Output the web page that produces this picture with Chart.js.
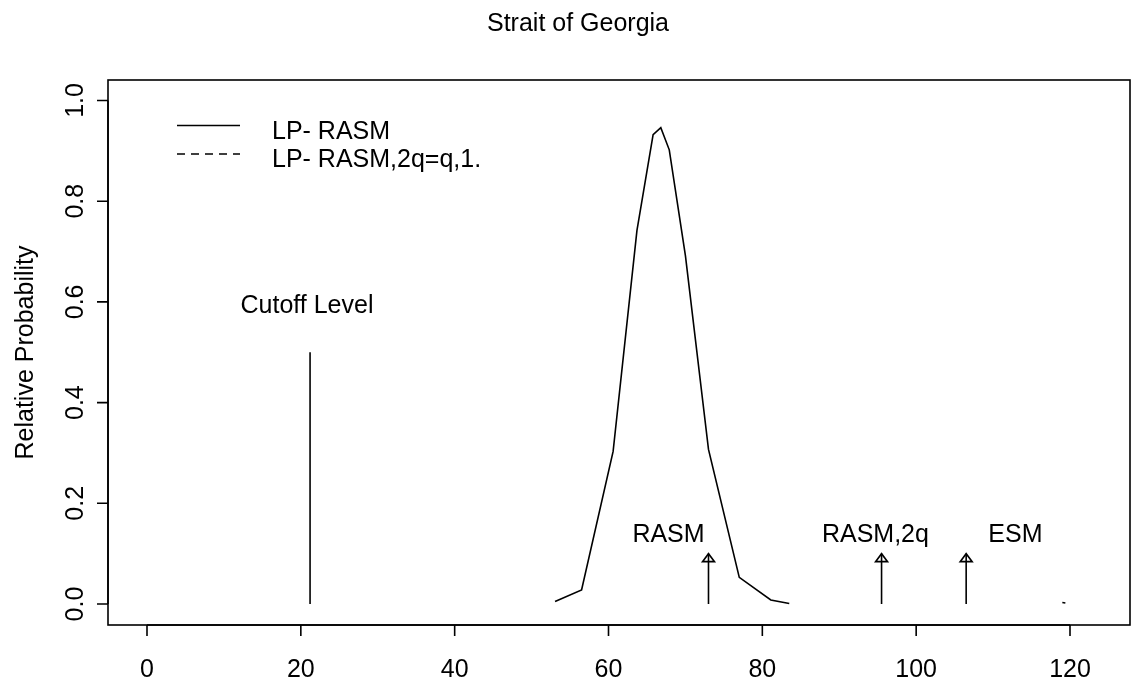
<!DOCTYPE html>
<html>
<head>
<meta charset="utf-8">
<script src="https://cdn.jsdelivr.net/npm/chart.js@4.4.0/dist/chart.umd.min.js"></script>
<style>
  body { margin: 0; background: #fff; }
  #wrap { width: 1141px; height: 683px; }
</style>
</head>
<body>
<div id="wrap"><canvas id="mycanvas" width="1141" height="683"></canvas></div>
<script>

// LP- RASM curve
var lpX = [53.05, 56.5, 60.6, 63.7, 65.8, 66.8, 67.9, 70.0, 73.0, 77.0, 81.1, 83.5];
var lpY = [0.005, 0.028, 0.303, 0.742, 0.932, 0.946, 0.902, 0.692, 0.307, 0.053, 0.008, 0.001];

// LP- RASM,2q=q,1. (only a tiny piece is visible near 119)
var lp2X = [119.0, 119.4];
var lp2Y = [0.003, 0.002];

// cutoff
var cutoffX = 21.2;
var cutoffY = [0, 0.5];

// arrows
var arrowX = [73.0, 95.5, 106.5];
var arrowTop = 0.1;
var arrowLabels = ["RASM", "RASM,2q", "ESM"];
var arrowLabelX = [67.8, 94.7, 112.9];
var arrowLabelY = 0.123;

var xTicks = [0, 20, 40, 60, 80, 100, 120];
var yTicks = [0, 0.2, 0.4, 0.6, 0.8, 1.0];
var yTickLabels = ["0.0", "0.2", "0.4", "0.6", "0.8", "1.0"];

var legendLabels = ["LP- RASM", "LP- RASM,2q=q,1."];

function pts(xs, ys) {
    var out = [];
    for (var i in xs) {
        out.push({x: xs[i], y: ys[i]});
    }
    return out;
}

var FONT = "25px 'Liberation Sans', Arial, sans-serif";

var datasets = [
    {label: legendLabels[0], data: pts(lpX, lpY), borderColor: "#000", borderWidth: 1.6, showLine: true, pointRadius: 0, tension: 0},
    {label: legendLabels[1], data: pts(lp2X, lp2Y), borderColor: "#000", borderWidth: 1.6, borderDash: [6, 5], showLine: true, pointRadius: 0, tension: 0},
    {label: "cutoff", data: pts([cutoffX, cutoffX], cutoffY), borderColor: "#000", borderWidth: 1.6, showLine: true, pointRadius: 0}
];
for (var a in arrowX) {
    datasets.push({label: "arrow" + a, data: pts([arrowX[a], arrowX[a]], [0, arrowTop]), borderColor: "#000", borderWidth: 1.6, showLine: true, pointRadius: 0});
}

var rDecor = {
    id: "rDecor",
    afterDraw: function (chart) {
        var ctx = chart.ctx;
        var xs = chart.scales.x, ys = chart.scales.y;
        var area = chart.chartArea;
        ctx.save();
        ctx.strokeStyle = "#000";
        ctx.fillStyle = "#000";
        ctx.lineWidth = 1.6;

        // box
        ctx.strokeRect(area.left, area.top, area.right - area.left, area.bottom - area.top);

        // x axis
        ctx.font = FONT;
        ctx.textAlign = "center";
        ctx.textBaseline = "alphabetic";
        ctx.beginPath();
        ctx.moveTo(xs.getPixelForValue(xTicks[0]), area.bottom);
        ctx.lineTo(xs.getPixelForValue(xTicks[xTicks.length - 1]), area.bottom);
        for (var i in xTicks) {
            var px = xs.getPixelForValue(xTicks[i]);
            ctx.moveTo(px, area.bottom);
            ctx.lineTo(px, area.bottom + 11);
        }
        ctx.stroke();
        for (var i in xTicks) {
            ctx.fillText(String(xTicks[i]), xs.getPixelForValue(xTicks[i]), 677);
        }

        // y axis
        ctx.beginPath();
        ctx.moveTo(area.left, ys.getPixelForValue(yTicks[0]));
        ctx.lineTo(area.left, ys.getPixelForValue(yTicks[yTicks.length - 1]));
        for (var j in yTicks) {
            var py = ys.getPixelForValue(yTicks[j]);
            ctx.moveTo(area.left, py);
            ctx.lineTo(area.left - 11, py);
        }
        ctx.stroke();
        for (var j in yTicks) {
            ctx.save();
            ctx.translate(83, ys.getPixelForValue(yTicks[j]));
            ctx.rotate(-Math.PI / 2);
            ctx.fillText(yTickLabels[j], 0, 0);
            ctx.restore();
        }

        // y title
        ctx.save();
        ctx.translate(33, (area.top + area.bottom) / 2);
        ctx.rotate(-Math.PI / 2);
        ctx.fillText("Relative Probability", 0, 0);
        ctx.restore();

        // main title
        ctx.fillText("Strait of Georgia", 578, 31);

        // arrow heads + labels
        for (var k in arrowX) {
            var ax = xs.getPixelForValue(arrowX[k]);
            var ay = ys.getPixelForValue(arrowTop);
            ctx.beginPath();
            ctx.moveTo(ax - 6, ay + 8);
            ctx.lineTo(ax, ay);
            ctx.lineTo(ax + 6, ay + 8);
            ctx.closePath();
            ctx.stroke();
            ctx.fillText(arrowLabels[k], xs.getPixelForValue(arrowLabelX[k]), ys.getPixelForValue(arrowLabelY));
        }

        // cutoff label
        ctx.fillText("Cutoff Level", xs.getPixelForValue(20.8), ys.getPixelForValue(0.577));

        // legend
        ctx.textAlign = "left";
        ctx.beginPath();
        ctx.moveTo(177, 125.5);
        ctx.lineTo(240, 125.5);
        ctx.stroke();
        ctx.setLineDash([8, 6]);
        ctx.beginPath();
        ctx.moveTo(177, 154);
        ctx.lineTo(240, 154);
        ctx.stroke();
        ctx.setLineDash([]);
        ctx.fillText(legendLabels[0], 272, 139);
        ctx.fillText(legendLabels[1], 272, 167);

        ctx.restore();
    }
};

var chartCtx = document.getElementById("mycanvas");
var myNewChart = new Chart(chartCtx, {
    type: "scatter",
    data: {datasets: datasets},
    options: {
        responsive: false,
        animation: false,
        layout: {padding: {left: 108, right: 11, top: 80, bottom: 58}},
        plugins: {legend: {display: false}, tooltip: {enabled: false}},
        scales: {
            x: {type: "linear", min: -5.07, max: 127.8, display: false},
            y: {type: "linear", min: -0.0417, max: 1.0407, display: false}
        }
    },
    plugins: [rDecor]
});

</script>
</body>
</html>
